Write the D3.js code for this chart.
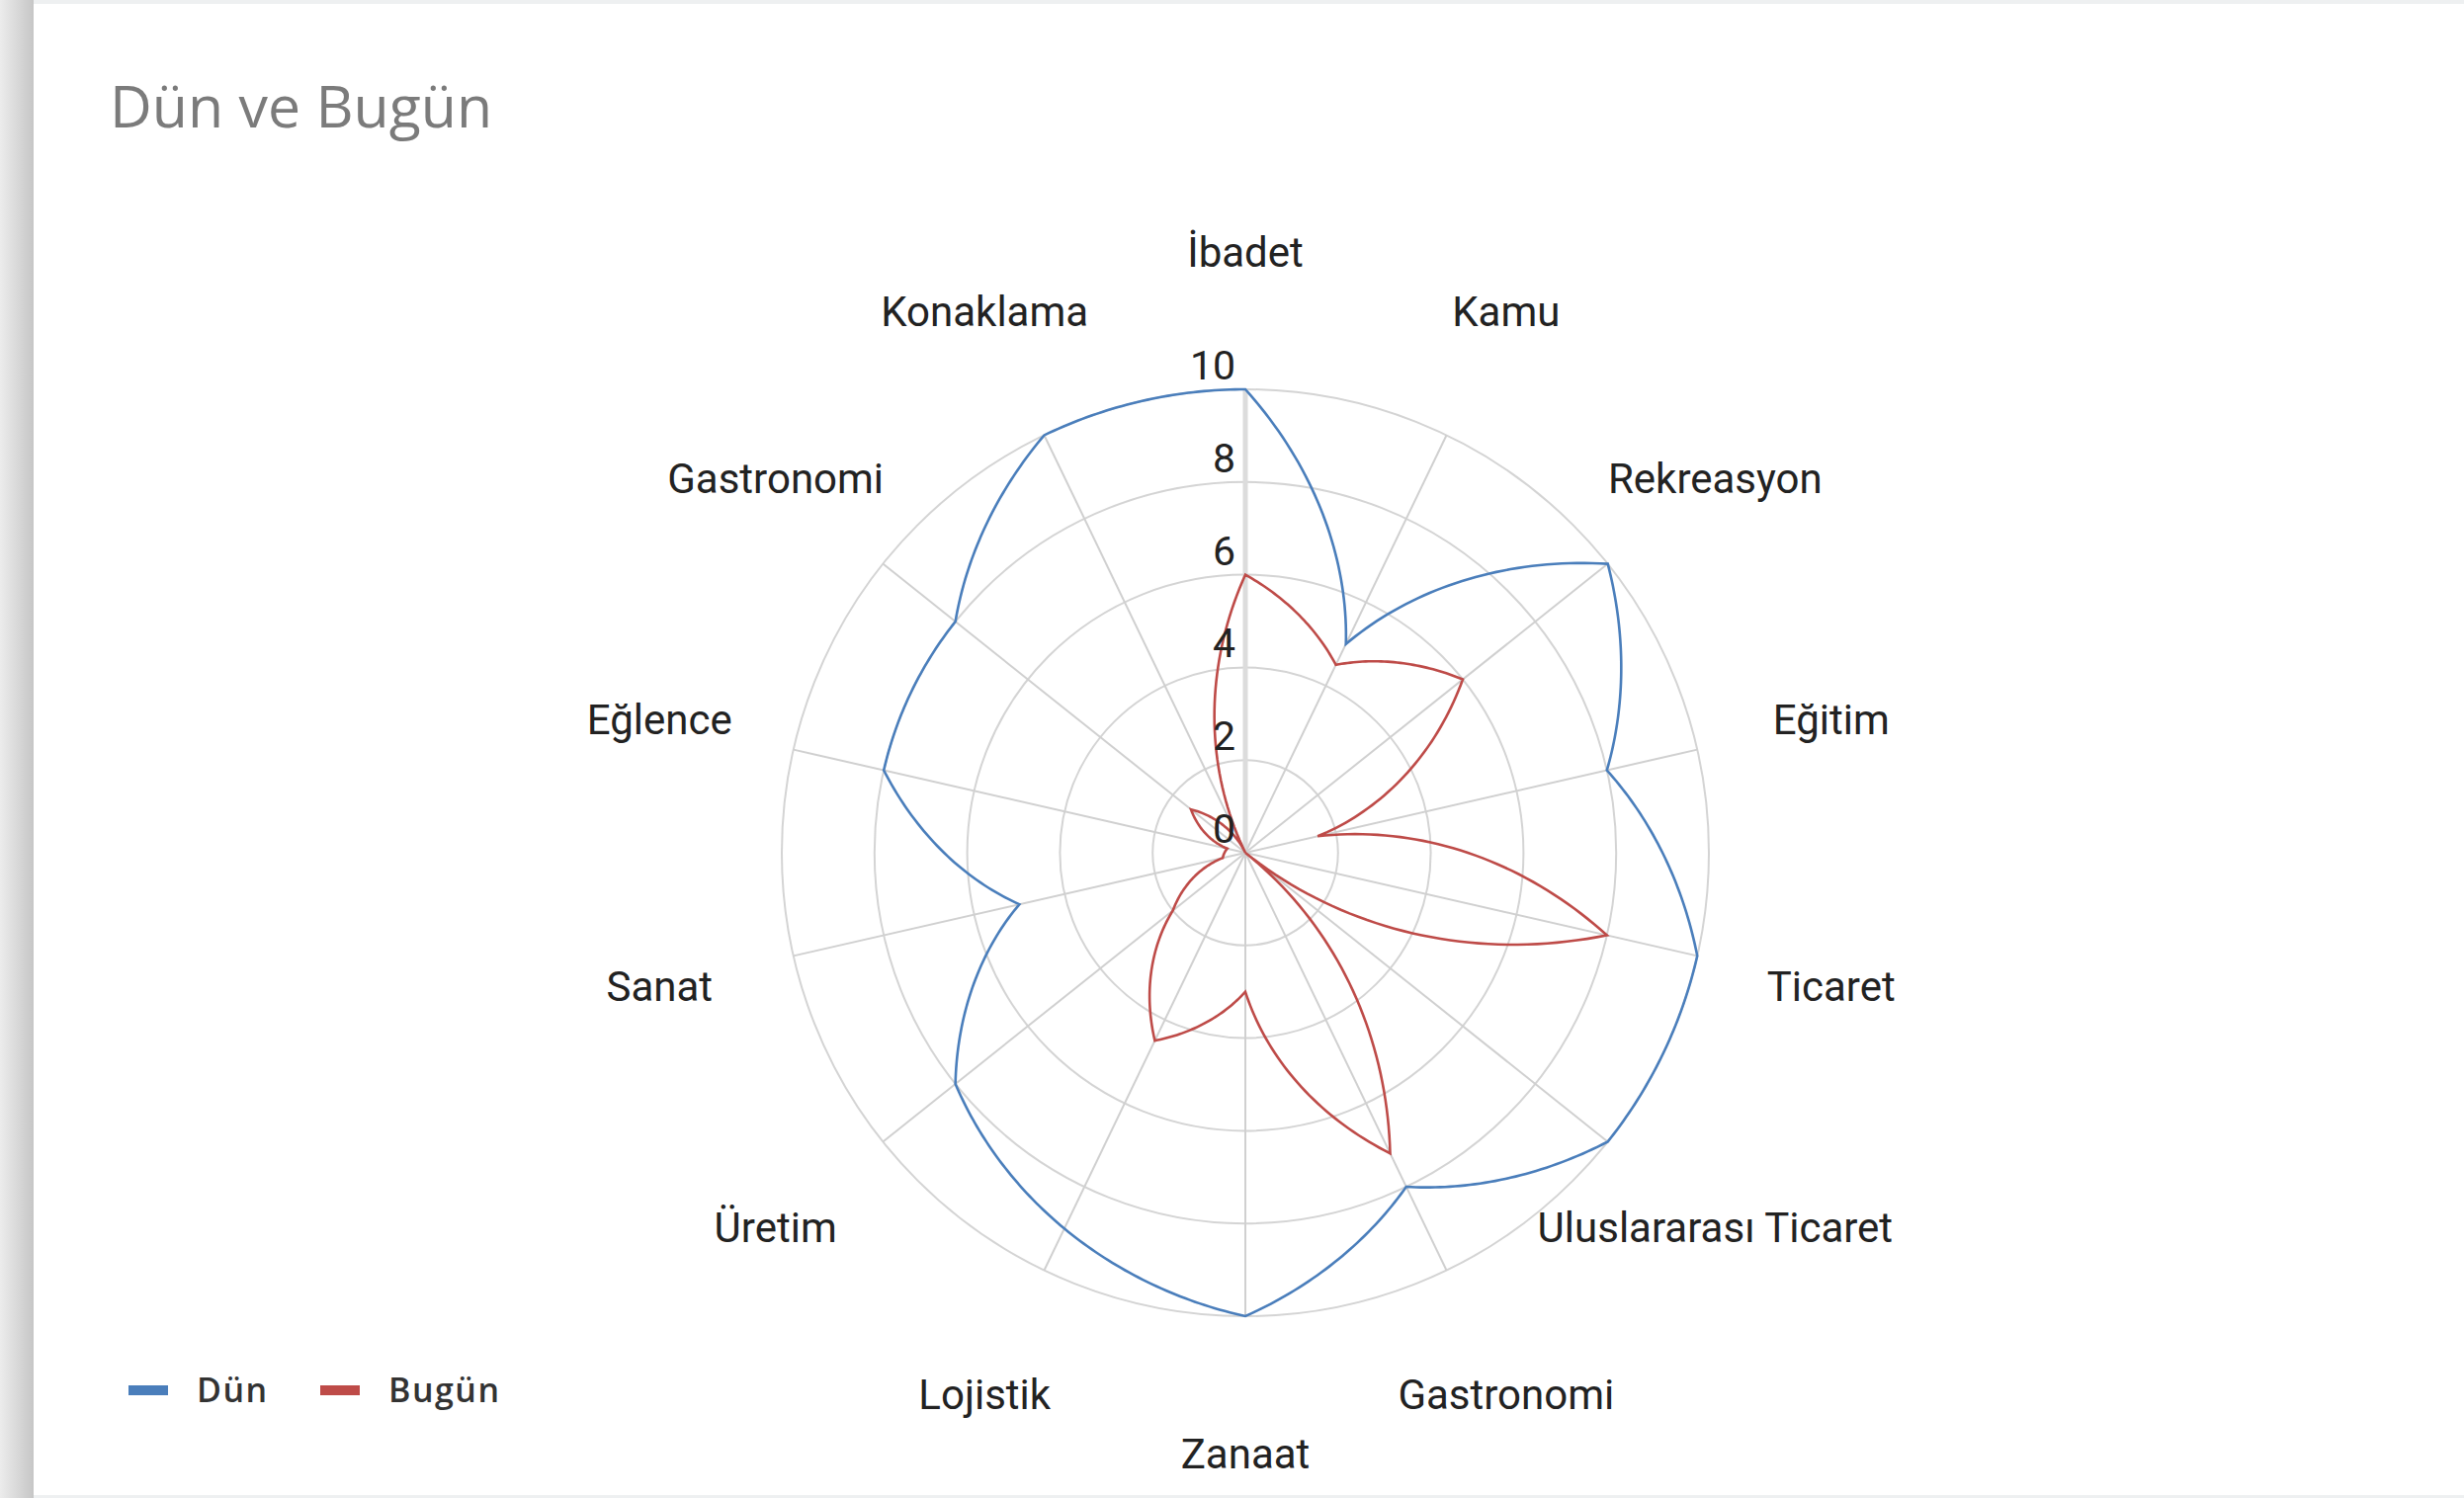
<!DOCTYPE html>
<html>
<head>
<meta charset="utf-8">
<script src="https://cdn.jsdelivr.net/npm/d3@7"></script>
<style>
  body { margin: 0; background: #fff; }
  svg { display: block; }
</style>
</head>
<body>
<div class="container"></div>
<script>
const categories = ['İbadet', 'Kamu', 'Rekreasyon', 'Eğitim', 'Ticaret', 'Uluslararası Ticaret', 'Gastronomi',
    'Zanaat', 'Lojistik', 'Üretim', 'Sanat', 'Eğlence', 'Gastronomi', 'Konaklama'];
const dun = [10, 5, 10, 8, 10, 10, 8, 10, 9, 8, 5, 8, 8, 10];
const bugun = [6, 4.5, 6, 1.6, 8, 0, 7.2, 3, 4.5, 2, 0.5, 0.4, 1.5, 0];
const ticks = [0, 2, 4, 6, 8, 10];
const seriesNames = ['Dün', 'Bugün'];
const colors = ['#4a7ebb', '#be4b48'];

const width = 2493,
    height = 1516,
    cx = 1260,
    cy = 863,
    R = 469,
    labelR = 608;

const svg = d3.select('.container')
    .append('svg')
    .attr('width', width)
    .attr('height', height);

// card frame with a soft shadow strip on the left
const defs = svg.append('defs');
const grad = defs.append('linearGradient').attr('id', 'shade');
grad.append('stop').attr('offset', '0%').attr('stop-color', '#ececec');
grad.append('stop').attr('offset', '100%').attr('stop-color', '#c6c6c6');

svg.append('rect').attr('width', width).attr('height', height).attr('fill', '#eef0f1');
svg.append('rect').attr('x', 0).attr('y', 0).attr('width', 34).attr('height', height).attr('fill', 'url(#shade)');
svg.append('rect').attr('x', 34).attr('y', 4).attr('width', width - 34).attr('height', height - 7).attr('fill', '#fff');

svg.append('text')
    .attr('x', 111)
    .attr('y', 129)
    .attr('font-family', 'Open Sans')
    .attr('font-size', 59)
    .attr('fill', '#7b7b7b')
    .text('Dün ve Bugün');

const n = categories.length;
const angle = d3.scaleLinear().domain([0, n]).range([0, 2 * Math.PI]);
const radius = d3.scaleLinear().domain([0, 10]).range([0, R]);

const g = svg.append('g').attr('transform', `translate(${cx}, ${cy})`);

// rings
g.selectAll('.ring')
    .data(ticks.filter(t => t > 0))
    .enter().append('circle')
    .attr('r', d => radius(d))
    .attr('fill', 'none')
    .attr('stroke', '#d4d4d4')
    .attr('stroke-width', 2);

// spokes
g.selectAll('.spoke')
    .data(categories)
    .enter().append('line')
    .attr('x1', 0).attr('y1', 0)
    .attr('x2', (d, i) => radius(10) * Math.sin(angle(i)))
    .attr('y2', (d, i) => -radius(10) * Math.cos(angle(i)))
    .attr('stroke', (d, i) => i === 0 ? '#dcdcdc' : '#d0d0d0')
    .attr('stroke-width', (d, i) => i === 0 ? 5 : 2);

// series: segments follow the polar grid (angle and radius move together)
const steps = 40;
const polarPath = values => {
    const pts = [];
    values.forEach((v, i) => {
        const next = values[(i + 1) % n];
        for (let s = 0; s < steps; s++) {
            const t = s / steps;
            pts.push([angle(i + t), radius(v) + (radius(next) - radius(v)) * t]);
        }
    });
    return d3.lineRadial().angle(d => d[0]).radius(d => d[1]).curve(d3.curveLinearClosed)(pts);
};

[dun, bugun].forEach((vals, k) => {
    g.append('path')
        .attr('d', polarPath(vals))
        .attr('fill', 'none')
        .attr('stroke', colors[k])
        .attr('stroke-width', 2.6)
        .attr('stroke-linejoin', 'miter');
});

// tick labels
g.selectAll('.tick')
    .data(ticks)
    .enter().append('text')
    .attr('x', -10)
    .attr('y', d => -radius(d) - 10)
    .attr('text-anchor', 'end')
    .attr('font-family', 'Roboto')
    .attr('font-size', 41)
    .attr('fill', '#222')
    .text(d => d);

// category labels
g.selectAll('.cat')
    .data(categories)
    .enter().append('text')
    .attr('x', (d, i) => labelR * Math.sin(angle(i)))
    .attr('y', (d, i) => -labelR * Math.cos(angle(i)) + 15)
    .attr('text-anchor', 'middle')
    .attr('font-family', 'Roboto')
    .attr('font-size', 42)
    .attr('fill', '#222')
    .text(d => d);

// legend
const legend = svg.append('g').attr('transform', 'translate(130, 1407)');
const items = [{x: 0}, {x: 194}];
items.forEach((it, k) => {
    legend.append('rect')
        .attr('x', it.x).attr('y', -5)
        .attr('width', 40).attr('height', 10)
        .attr('fill', colors[k]);
    legend.append('text')
        .attr('x', it.x + 69)
        .attr('y', 12)
        .attr('font-family', 'Open Sans')
        .attr('font-weight', 600)
        .attr('font-size', 34)
        .attr('letter-spacing', 1.5)
        .attr('fill', '#333')
        .text(seriesNames[k]);
});
</script>
</body>
</html>
